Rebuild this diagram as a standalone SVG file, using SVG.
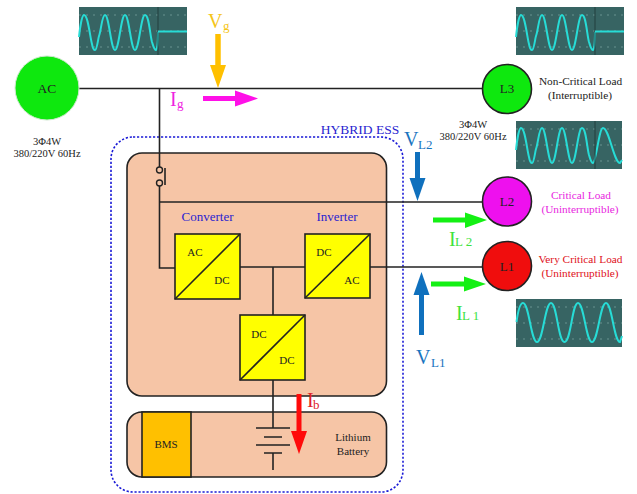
<svg xmlns="http://www.w3.org/2000/svg" width="637" height="494" viewBox="0 0 637 494">
<style>
text{font-family:"Liberation Serif","Times New Roman",serif;fill:#222}
.m{text-anchor:middle}
.s{font-size:11px}
.t{font-size:10.5px}
.d{font-size:11.3px}
.l{font-size:13px}
.big{font-size:20px}
.sub{font-size:13px}
.w{fill:none;stroke:#222;stroke-width:1.6}
.b{fill:#f6c5a6;stroke:#222;stroke-width:1.6}
.y{fill:#ffff00;stroke:#222;stroke-width:1.6}
.n{stroke:#222;stroke-width:1.6}
.scr{fill:#376463}
.wave{fill:none;stroke:#27dcd6;stroke-width:2}
.grid{stroke:#7fa6a3;stroke-width:.7;stroke-dasharray:2 5;fill:none}
.div{stroke:#223f3f;stroke-width:1}
.shaft{fill:none;stroke-width:5}
</style>
<defs>
<g id="scope">
<rect class="scr" width="108" height="48"/>
<path class="grid" d="M0 8H108M0 24H108M0 40H108"/>
</g>
<path id="cut" class="wave" d="M0 30C1 20 3 8 5 8C9 8 11 30 13 37C14 43 15 43 16 43C18 43 19 32 20 29C22 24 23 8 26 8C30 8 32 43 36 43C40 43 42 8 46 8C50 8 52 43 56 43C60 43 62 8 66 8C70 8 71 28 73 35C74 38 75 43 77 43C78 43 79 38 79 25"/>
</defs>
<g id="ess-frame">
<rect x="111" y="137" width="292" height="355" rx="22" fill="none" stroke="#1a1ad6" stroke-width="1.6" stroke-dasharray="2.2 1.8"/>
<text x="360" y="134" class="m" font-size="13.5" style="fill:#2a1fd0">HYBRID ESS</text>
</g>
<g id="ess-panel">
<rect class="b" x="127" y="153" width="259.500" height="243" rx="15"/>
</g>
<g id="battery-panel">
<rect class="b" x="127" y="412" width="259.500" height="65" rx="15"/>
</g>
<g id="connectors">
<path class="w" d="M79 88.500H483"/>
<path class="w" d="M159.500 88.500V167M159.500 186V268H175"/>
<path class="w" d="M159.500 202H483"/>
<path class="w" d="M240 267H305M273 267V315"/>
<path class="w" d="M370 267H483"/>
<path class="w" d="M273 380V428"/>
</g>
<g id="switch">
<circle cx="159.500" cy="170" r="3" fill="#f6c5a6" stroke="#222" stroke-width="1.400"/>
<circle cx="159.500" cy="183" r="3" fill="#f6c5a6" stroke="#222" stroke-width="1.400"/>
<path class="w" d="M165 168V185"/>
</g>
<g id="converter">
<rect class="y" x="175" y="234" width="65" height="65"/>
<path class="n" d="M175 299L240 234"/>
<text x="195" y="256" class="m s">AC</text>
<text x="222" y="284" class="m s">DC</text>
<text x="207.500" y="221" class="m" font-size="13" style="fill:#2a1fd0">Converter</text>
</g>
<g id="inverter">
<rect class="y" x="305" y="234" width="65" height="64"/>
<path class="n" d="M305 298L370 234"/>
<text x="324" y="256" class="m s">DC</text>
<text x="352" y="284" class="m s">AC</text>
<text x="337" y="221" class="m" font-size="13" style="fill:#2a1fd0">Inverter</text>
</g>
<g id="dcdc">
<rect class="y" x="240" y="315" width="65" height="65"/>
<path class="n" d="M240 380L305 315"/>
<text x="259" y="338" class="m s">DC</text>
<text x="287" y="364" class="m s">DC</text>
</g>
<g id="battery">
<rect x="142" y="412" width="49" height="65" fill="#ffc000" stroke="#222" stroke-width="1.600"/>
<text x="166" y="448" class="m s">BMS</text>
<path class="w" d="M256 428H290M264 437H282M256 445H290M264 453H282M273 453V470"/>
<text x="353" y="441" class="m s">Lithium</text>
<text x="353" y="455" class="m s">Battery</text>
</g>
<g id="ac">
<circle cx="47" cy="88" r="32" fill="#0ee80e" stroke="#cfe8cf" stroke-width="1"/>
<text x="47" y="93" class="m" font-size="13.500">AC</text>
<text x="47" y="145" class="m t">3Φ4W</text>
<text x="47" y="157" class="m t">380/220V 60Hz</text>
</g>
<g id="l3">
<circle cx="507" cy="89" r="24.500" fill="#0ee80e" stroke="#222" stroke-width="1.600"/>
<text x="507" y="93" class="m l">L3</text>
<text x="580.500" y="85" class="m d">Non-Critical Load</text>
<text x="580" y="99" class="m d">(Interruptible)</text>
<text x="473" y="128" class="m t">3Φ4W</text>
<text x="473" y="140" class="m t">380/220V 60Hz</text>
</g>
<g id="l2">
<circle cx="507" cy="201.500" r="24.500" fill="#ee10ee" stroke="#222" stroke-width="1.600"/>
<text x="507" y="206" class="m l">L2</text>
<text x="581" y="199" class="m d" style="fill:#e81fe0">Critical Load</text>
<text x="580" y="213" class="m d" style="fill:#e81fe0">(Uninterruptible)</text>
</g>
<g id="l1">
<circle cx="507" cy="266" r="24.500" fill="#f00d0d" stroke="#222" stroke-width="1.600"/>
<text x="507" y="271" class="m l">L1</text>
<text x="580.500" y="263" class="m d" style="fill:#e0101a">Very Critical Load</text>
<text x="580" y="277" class="m d" style="fill:#e0101a">(Uninterruptible)</text>
</g>
<g id="scope-ac">
<use href="#scope" x="79" y="7"/>
<use href="#cut" x="79" y="7"/>
<path class="div" d="M158 7V55"/>
<path class="wave" d="M158 31.500H187"/>
</g>
<g id="scope-l3">
<use href="#scope" x="516" y="7"/>
<use href="#cut" x="516" y="7"/>
<path class="div" d="M595 7V55"/>
<path class="wave" d="M595 31.500H624"/>
</g>
<g id="scope-l2">
<rect class="scr" x="516" y="121" width="106" height="48"/>
<path class="grid" d="M516 129H622M516 145H622M516 161H622"/>
<path class="wave" d="M516 150C517 140 519 128 521 128C525 128 527 150 529 157C530 163 531 163 532 163C534 163 535 152 536 149C538 144 539 128 542 128C546 128 548 163 552 163C556 163 558 128 562 128C566 128 568 163 572 163C576 163 578 128 582 128C586 128 587 148 589 155C590 158 591 163 593 163C596 163 599 128 603 128C609 128 614 163 620 163L622 160"/>
<path class="div" d="M595 121V169"/>
</g>
<g id="scope-l1">
<rect class="scr" x="516" y="299" width="106" height="48"/>
<path class="grid" d="M516 307H622M516 323H622M516 339H622"/>
<path class="wave" d="M516.500 322C518 311 520 303 523 303C529 303 531 342 537 342C543 342 545 303 551 303C557 303 558 342 564.500 342C571 342 572 303 578 303C584 303 586 342 592 342C598 342 600 303 606 303C612 303 614 342 620 342L622 336"/>
</g>
<g id="arrows">
<path class="shaft" d="M218 34V70" stroke="#ffc000" style="stroke-width:5.500"/>
<path d="M210 65H226L218 88Z" fill="#ffc000"/>
<text x="208" y="28" class="big" style="fill:#f5c518">V</text>
<text x="223" y="30" class="sub" style="fill:#f5c518">g</text>
<path class="shaft" d="M203 98.500H238" stroke="#ff10e8"/>
<path d="M235 90.500L258 98.500L235 106.500Z" fill="#ff10e8"/>
<text x="170" y="106" class="big" style="fill:#ee22e0">I</text>
<text x="177" y="108" class="sub" style="fill:#ee22e0">g</text>
<path class="shaft" d="M417.500 152V184" stroke="#0f70bd"/>
<path d="M409.500 178H425.500L417.500 201Z" fill="#0f70bd"/>
<text x="404" y="146" class="big" style="fill:#1a75bf">V</text>
<text x="418" y="149" class="sub" style="fill:#1a75bf">L2</text>
<path class="shaft" d="M433 220H470" stroke="#14f014"/>
<path d="M465 212.500L487 220L465 228Z" fill="#14f014"/>
<text x="449" y="246" class="big" style="fill:#3ee23e">I</text>
<text x="455" y="246" class="sub" style="fill:#3ee23e">L 2</text>
<path class="shaft" d="M431 284H470" stroke="#14f014"/>
<path d="M464 276.500L486 284L464 291.500Z" fill="#14f014"/>
<text x="456" y="320" class="big" style="fill:#3ee23e">I</text>
<text x="462" y="320" class="sub" style="fill:#3ee23e">L 1</text>
<path class="shaft" d="M421.500 335V292" stroke="#0f70bd"/>
<path d="M413.500 295H429.500L421.500 272Z" fill="#0f70bd"/>
<text x="416" y="364" class="big" style="fill:#1a75bf">V</text>
<text x="431" y="367" class="sub" style="fill:#1a75bf">L1</text>
<path class="shaft" d="M299 394V436" stroke="#ff0a0a"/>
<path d="M291 431H307L299 454Z" fill="#ff0a0a"/>
<text x="307" y="407" class="big" style="fill:#e0202a">I</text>
<text x="313" y="409" class="sub" style="fill:#e0202a">b</text>
</g>
</svg>
